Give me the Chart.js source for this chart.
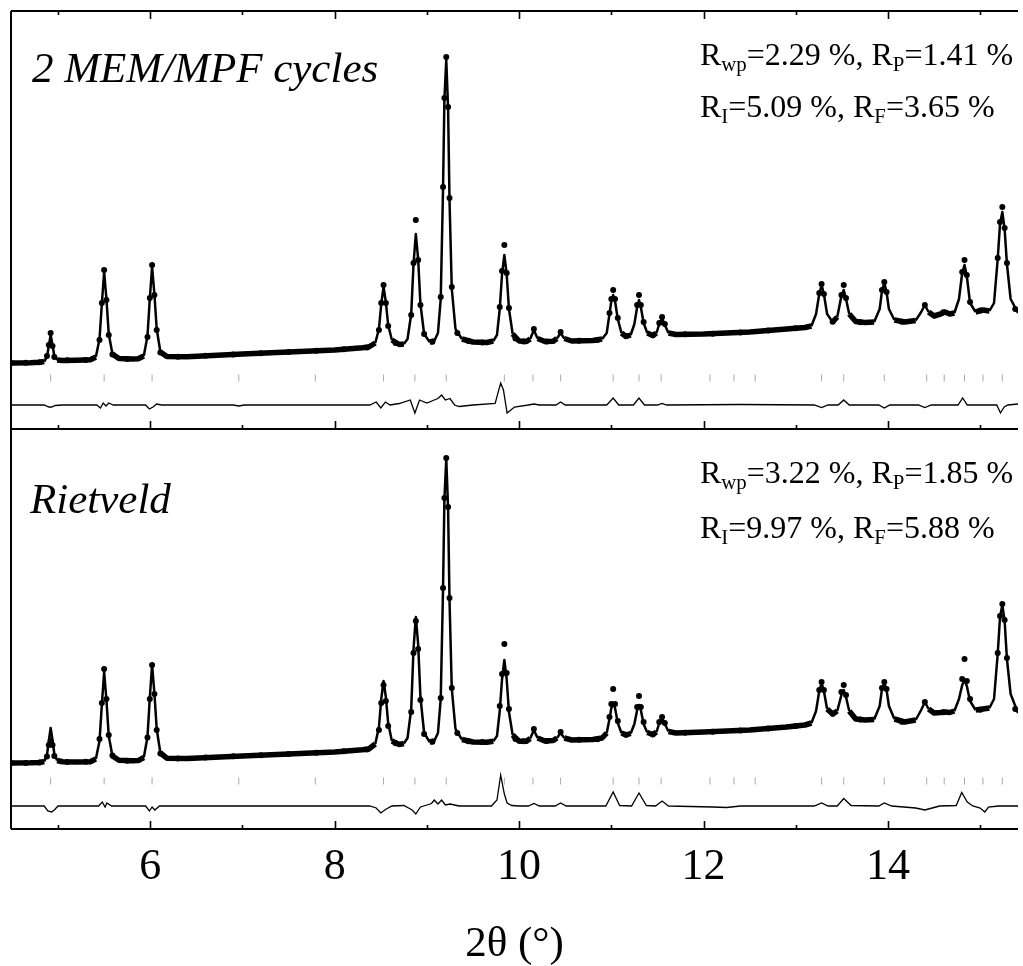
<!DOCTYPE html>
<html>
<head>
<meta charset="utf-8">
<script src="https://cdn.jsdelivr.net/npm/chart.js@4"></script>
<style>
  html, body { margin:0; padding:0; background:#fff; }
  #wrap { position:relative; width:1023px; height:966px; overflow:hidden; background:#fff; }
  canvas { position:absolute; left:0; }
  .lbl { position:absolute; font-family:'Liberation Serif','Times New Roman',serif; color:#000; line-height:1; white-space:nowrap; }
  .it { font-style:italic; font-size:43px; }
  .rf { font-size:32px; }
  .rf sub { font-size:0.65em; vertical-align:-0.3em; line-height:0; }
</style>
</head>
<body>
<div id="wrap">
  <canvas id="top" width="1023" height="440" style="top:0px"></canvas>
  <canvas id="bot" width="1023" height="547" style="top:419px"></canvas>
  <div class="lbl it" style="left:32px; top:46px">2 MEM/MPF cycles</div>
  <div class="lbl rf" style="left:700px; top:38px">R<sub>wp</sub>=2.29 %, R<sub>P</sub>=1.41 %</div>
  <div class="lbl rf" style="left:700px; top:90px">R<sub>I</sub>=5.09 %, R<sub>F</sub>=3.65 %</div>
  <div class="lbl it" style="left:30px; top:477px">Rietveld</div>
  <div class="lbl rf" style="left:700px; top:456px">R<sub>wp</sub>=3.22 %, R<sub>P</sub>=1.85 %</div>
  <div class="lbl rf" style="left:700px; top:511px">R<sub>I</sub>=9.97 %, R<sub>F</sub>=5.88 %</div>
</div>
<script>
// ---------------- DATA ----------------
const xTickValues = [6, 8, 10, 12, 14];
const xMinorTickValues = [5, 7, 9, 11, 13, 15];
const xAxisTitle = '2θ (°)';

// Bragg reflection positions (2θ)
const braggPeaks = [4.92,5.50,6.02,6.96,7.79,8.53,8.87,9.21,9.84,10.15,10.45,11.02,11.30,11.54,12.07,12.33,12.56,13.28,13.52,13.96,14.42,14.61,14.83,15.03,15.24];

// Top panel (2 MEM/MPF cycles): calculated profile [2θ, intensity]
const calcTop = [
[4.49,660],[4.70,663],[4.80,667],[4.85,675],[4.88,720],[4.90,830],[4.92,940],[4.94,840],[4.96,730],[4.99,690],[5.05,685],
[5.20,688],[5.35,692],[5.41,720],[5.45,900],[5.475,1250],[5.50,1570],[5.525,1300],[5.55,950],[5.59,750],[5.66,705],[5.80,700],
[5.87,702],[5.93,730],[5.97,930],[5.995,1300],[6.02,1620],[6.045,1350],[6.07,1000],[6.11,770],[6.18,725],[6.40,722],
[7.00,750],[7.50,770],[8.00,790],[8.20,805],[8.30,812],
[8.37,820],[8.44,860],[8.48,1000],[8.505,1250],[8.53,1420],[8.555,1270],[8.58,1040],[8.62,890],[8.70,845],
[8.75,850],[8.79,900],[8.83,1150],[8.855,1650],[8.88,1950],[8.905,1700],[8.93,1250],[8.97,950],[9.03,870],
[9.08,880],[9.12,960],[9.15,1300],[9.175,2400],[9.19,3300],[9.21,3690],[9.23,3200],[9.245,2300],[9.27,1400],[9.31,1000],[9.38,900],[9.50,870],
[9.65,865],[9.72,880],[9.76,940],[9.79,1200],[9.815,1550],[9.84,1740],[9.865,1550],[9.89,1200],[9.93,950],[10.00,880],
[10.08,875],[10.12,900],[10.16,990],[10.20,905],[10.28,875],[10.37,878],[10.41,905],[10.45,960],[10.49,905],[10.57,880],
[10.80,885],[10.90,900],[10.95,960],[10.98,1150],[11.00,1280],[11.02,1340],[11.04,1280],[11.07,1100],[11.11,960],[11.16,925],[11.21,940],[11.25,1050],[11.28,1220],[11.30,1290],[11.32,1220],[11.35,1060],[11.39,960],[11.45,935],[11.49,960],[11.52,1050],[11.55,1110],[11.58,1040],[11.62,960],[11.70,945],
[12.00,950],[12.50,970],[12.90,1000],[13.10,1015],
[13.17,1030],[13.22,1150],[13.255,1350],[13.28,1440],[13.305,1350],[13.34,1150],[13.40,1070],[13.45,1120],[13.495,1330],[13.52,1390],[13.545,1300],[13.58,1150],[13.65,1075],[13.75,1065],[13.85,1070],[13.91,1200],[13.935,1380],[13.96,1460],[13.985,1370],[14.01,1200],[14.07,1090],[14.18,1070],
[14.30,1085],[14.36,1170],[14.40,1240],[14.44,1170],[14.50,1130],[14.57,1150],[14.62,1170],[14.67,1150],[14.72,1160],[14.77,1300],[14.805,1560],[14.83,1640],[14.855,1530],[14.89,1260],[14.95,1170],[15.03,1190],[15.10,1180],[15.15,1260],[15.19,1700],[15.215,2050],[15.24,2170],[15.265,2000],[15.29,1650],[15.33,1300],[15.41,1160]
];

// Top panel: observed points [2θ, intensity]
const obsTop = [
[4.49,660],[4.65,662],[4.80,668],[4.88,730],[4.90,840],[4.92,960],[4.94,830],[4.96,720],[5.10,688],[5.30,691],
[5.45,890],[5.475,1260],[5.50,1590],[5.525,1290],[5.55,940],[5.59,745],[5.75,701],
[5.97,920],[5.995,1310],[6.02,1640],[6.045,1340],[6.07,990],[6.11,765],[6.30,722],[6.60,733],[6.90,746],[7.20,758],[7.50,771],[7.80,782],[8.10,798],[8.35,816],
[8.48,990],[8.505,1260],[8.53,1440],[8.555,1260],[8.58,1030],[8.66,860],
[8.83,1140],[8.855,1660],[8.88,2090],[8.905,1690],[8.93,1240],[8.97,950],[9.06,872],
[9.15,1320],[9.175,2420],[9.19,3310],[9.21,3720],[9.23,3220],[9.245,2310],[9.27,1420],[9.33,960],[9.45,880],[9.60,866],
[9.79,1220],[9.815,1580],[9.84,1840],[9.865,1560],[9.89,1210],[9.96,905],[10.05,876],
[10.16,1000],[10.30,876],[10.45,970],[10.65,882],[10.85,890],
[10.98,1160],[11.00,1300],[11.02,1390],[11.04,1300],[11.07,1110],[11.16,930],
[11.28,1240],[11.30,1340],[11.32,1240],[11.35,1070],[11.45,938],
[11.52,1060],[11.55,1120],[11.58,1050],[11.80,947],[12.10,953],[12.40,965],[12.70,985],[13.00,1008],
[13.255,1360],[13.28,1450],[13.305,1350],[13.40,1072],
[13.495,1340],[13.52,1440],[13.545,1310],[13.70,1068],
[13.935,1390],[13.96,1470],[13.985,1370],[14.15,1072],
[14.40,1240],[14.60,1168],
[14.805,1570],[14.83,1690],[14.855,1540],[14.89,1270],[15.00,1185],
[15.19,1710],[15.215,2070],[15.24,2220],[15.265,2010],[15.29,1660],[15.38,1200]
];

// Top panel: difference (obs - calc) [2θ, value]
const diffTop = [
[4.49,0],[4.85,0],[4.90,-20],[4.93,-20],[4.97,-5],[5.05,0],[5.42,0],[5.46,-30],[5.49,20],[5.52,-10],[5.55,20],[5.60,0],
[5.95,0],[5.99,-40],[6.03,-20],[6.07,10],[6.12,0],[6.90,0],[6.96,-10],[7.02,0],
[8.38,0],[8.45,30],[8.50,-30],[8.55,30],[8.60,0],[8.70,15],[8.82,50],[8.87,-80],[8.92,50],[9.00,20],[9.08,50],[9.12,65],[9.16,100],[9.20,50],[9.25,65],[9.30,0],[9.35,-15],[9.50,0],
[9.74,15],[9.80,220],[9.83,150],[9.87,-80],[9.95,-20],[10.10,0],[10.16,10],[10.22,0],[10.40,0],[10.45,30],[10.50,0],
[10.95,0],[11.02,70],[11.08,0],[11.24,0],[11.30,70],[11.36,0],[11.50,0],[11.55,15],[11.60,0],[12.40,5],
[13.20,0],[13.28,-25],[13.35,0],[13.46,0],[13.52,50],[13.58,0],[13.90,0],[13.96,-30],[14.02,0],[14.33,0],[14.40,-25],[14.47,0],
[14.76,0],[14.81,70],[14.86,0],[15.00,0],[15.18,0],[15.22,-80],[15.26,-20],[15.30,0],[15.41,10]
];

// Bottom panel (Rietveld): calculated profile
const calcBottom = [
[4.49,660],[4.70,662],[4.80,665],[4.85,675],[4.88,740],[4.90,880],[4.92,1010],[4.94,890],[4.96,750],[4.99,685],[5.05,672],
[5.20,670],[5.35,673],[5.41,700],[5.45,880],[5.475,1240],[5.50,1570],[5.525,1290],[5.55,930],[5.59,730],[5.66,688],[5.80,682],
[5.87,684],[5.93,715],[5.97,920],[5.995,1310],[6.02,1640],[6.045,1360],[6.07,1000],[6.11,760],[6.18,708],[6.40,705],
[7.00,730],[7.50,750],[8.00,770],[8.20,785],[8.30,792],
[8.37,800],[8.44,850],[8.48,1020],[8.505,1300],[8.53,1480],[8.555,1320],[8.58,1060],[8.62,880],[8.70,845],
[8.75,855],[8.79,910],[8.83,1200],[8.855,1800],[8.88,2120],[8.905,1850],[8.93,1320],[8.97,960],[9.03,870],
[9.08,880],[9.12,960],[9.15,1300],[9.175,2400],[9.19,3300],[9.21,3700],[9.23,3200],[9.245,2300],[9.27,1400],[9.31,1000],[9.38,895],[9.50,870],
[9.65,868],[9.72,878],[9.76,930],[9.79,1180],[9.815,1500],[9.84,1690],[9.865,1500],[9.89,1170],[9.93,940],[10.00,878],
[10.08,878],[10.12,905],[10.16,990],[10.20,910],[10.28,880],[10.37,885],[10.41,910],[10.45,960],[10.49,910],[10.57,890],
[10.80,895],[10.90,910],[10.95,960],[10.98,1100],[11.00,1210],[11.02,1260],[11.04,1210],[11.07,1060],[11.11,960],[11.16,940],[11.21,955],[11.25,1050],[11.28,1190],[11.30,1240],[11.32,1190],[11.35,1050],[11.39,965],[11.45,945],[11.49,970],[11.52,1060],[11.55,1110],[11.58,1050],[11.62,975],[11.70,960],
[12.00,970],[12.50,990],[12.90,1020],[13.10,1040],
[13.17,1060],[13.22,1180],[13.255,1380],[13.28,1460],[13.305,1380],[13.34,1200],[13.40,1150],[13.45,1180],[13.495,1340],[13.52,1390],[13.545,1320],[13.58,1180],[13.65,1100],[13.75,1090],[13.85,1095],[13.91,1230],[13.935,1400],[13.96,1460],[13.985,1390],[14.01,1230],[14.07,1100],[14.18,1070],
[14.30,1090],[14.36,1190],[14.40,1270],[14.44,1200],[14.50,1160],[14.57,1165],[14.62,1170],[14.67,1165],[14.72,1180],[14.77,1300],[14.805,1440],[14.83,1490],[14.855,1430],[14.89,1280],[14.95,1190],[15.03,1200],[15.10,1210],[15.15,1300],[15.19,1750],[15.215,2120],[15.24,2240],[15.265,2080],[15.29,1700],[15.33,1350],[15.41,1160]
];

// Bottom panel: observed points
const obsBottom = [
[4.49,660],[4.65,661],[4.80,666],[4.88,725],[4.90,840],[4.92,880],[4.94,840],[4.96,730],[5.10,671],[5.30,672],
[5.45,900],[5.475,1260],[5.50,1600],[5.525,1300],[5.55,940],[5.59,735],[5.75,683],
[5.97,915],[5.995,1300],[6.02,1640],[6.045,1350],[6.07,990],[6.11,755],[6.30,705],[6.60,716],[6.90,727],[7.20,738],[7.50,751],[7.80,762],[8.10,777],[8.35,796],
[8.48,990],[8.505,1260],[8.53,1440],[8.555,1280],[8.58,1030],[8.66,858],
[8.83,1170],[8.855,1760],[8.88,2080],[8.905,1800],[8.93,1290],[8.97,950],[9.06,873],
[9.15,1310],[9.175,2410],[9.19,3310],[9.21,3710],[9.23,3220],[9.245,2310],[9.27,1410],[9.33,960],[9.45,878],[9.60,869],
[9.79,1230],[9.815,1550],[9.84,1850],[9.865,1560],[9.89,1200],[9.96,900],[10.05,878],
[10.16,1000],[10.30,881],[10.45,970],[10.65,892],[10.85,898],
[10.98,1120],[11.00,1250],[11.02,1400],[11.04,1250],[11.07,1080],[11.16,942],
[11.28,1220],[11.30,1330],[11.32,1220],[11.35,1070],[11.45,946],
[11.52,1070],[11.55,1120],[11.58,1060],[11.80,962],[12.10,972],[12.40,985],[12.70,1005],[13.00,1030],
[13.255,1390],[13.28,1470],[13.305,1390],[13.40,1152],
[13.495,1370],[13.52,1440],[13.545,1340],[13.70,1095],
[13.935,1410],[13.96,1470],[13.985,1400],[14.15,1072],
[14.40,1270],[14.60,1168],
[14.805,1500],[14.83,1700],[14.855,1480],[14.89,1300],[15.00,1192],
[15.19,1760],[15.215,2130],[15.24,2250],[15.265,2090],[15.29,1710],[15.38,1200]
];

// Bottom panel: difference
const diffBottom = [
[4.49,0],[4.85,0],[4.89,-50],[4.93,-60],[4.96,-40],[5.00,0],[5.44,0],[5.48,40],[5.51,-10],[5.53,30],[5.58,0],
[5.95,0],[5.99,-50],[6.02,-10],[6.05,-40],[6.10,0],
[8.38,0],[8.45,-20],[8.50,-70],[8.56,-30],[8.62,0],[8.75,5],[8.84,-40],[8.88,-80],[8.93,-10],[9.00,10],[9.05,25],[9.08,60],[9.12,20],[9.16,60],[9.20,10],[9.25,20],[9.35,0],
[9.70,0],[9.76,60],[9.80,310],[9.84,120],[9.87,30],[9.92,5],[10.00,0],[10.10,0],[10.16,25],[10.22,0],[10.39,0],[10.45,30],[10.51,0],
[10.94,0],[11.02,140],[11.09,5],[11.22,0],[11.30,130],[11.38,5],[11.48,0],[11.55,50],[11.62,0],[12.10,-10],[12.25,-15],[12.40,0],
[13.20,0],[13.28,30],[13.35,0],[13.45,0],[13.52,75],[13.60,5],[13.90,0],[13.96,30],[14.04,0],[14.30,-20],[14.40,-40],[14.48,-20],[14.56,0],
[14.74,5],[14.80,135],[14.86,40],[14.92,0],[15.00,-20],[15.05,-60],[15.09,-10],[15.20,0],[15.41,0]
];

// ---------------- LAYOUT CONSTANTS (not data) ----------------
const X_MIN = 4.49, X_MAX = 15.41;
const TOP_DIFF_OFFSET = 240, TOP_BRAGG_Y = 510, TOP_Y_MAX = 4180;
const BOT_DIFF_OFFSET = 230, BOT_BRAGG_Y = 480, BOT_Y_MAX = 4000;
const SERIF = "'Liberation Serif','Times New Roman',serif";

function calcDS(arr) {
  return {
    data: arr, showLine: true, borderColor: '#000', pointRadius: 0, borderWidth: 2.5,
    tension: 0, order: 2, borderJoinStyle: 'round',
    segment: {
      borderWidth: ctx => {
        const dx = Math.abs(ctx.p1.x - ctx.p0.x), dy = Math.abs(ctx.p1.y - ctx.p0.y);
        return dy > dx * 1.3 ? 2.5 : 5.5;
      }
    }
  };
}
function obsDS(arr) {
  return { data: arr, showLine: false, pointRadius: 3, pointBackgroundColor: '#000', pointBorderWidth: 0, order: 1 };
}
function braggDS(y) {
  return { data: braggPeaks.map(x => ({x, y})), showLine: false, pointStyle: 'line', rotation: 90,
           pointRadius: 3.5, borderColor: '#aaa', pointBorderColor: '#aaa', pointBorderWidth: 1, order: 3 };
}
function diffDS(arr, off) {
  return { data: arr.map(([x, v]) => ({x, y: v + off})), showLine: true, borderColor: '#000', borderWidth: 1.3,
           pointRadius: 0, tension: 0, order: 4 };
}

function framePlugin(cfg) {
  return {
    id: 'frame' + cfg.name,
    afterDraw(chart) {
      const {ctx, chartArea: a} = chart;
      const sx = chart.scales.x;
      ctx.save();
      ctx.strokeStyle = '#000';
      ctx.lineWidth = 2;
      ctx.beginPath();
      ctx.moveTo(a.left, a.top); ctx.lineTo(a.left, a.bottom);
      ctx.moveTo(a.left, a.top); ctx.lineTo(a.right, a.top);
      ctx.moveTo(a.left, a.bottom); ctx.lineTo(a.right, a.bottom);
      ctx.stroke();
      ctx.lineWidth = 1.6;
      ctx.beginPath();
      const drawTicks = (vals, len) => {
        vals.forEach(v => {
          const px = Math.round(sx.getPixelForValue(v)) + 0.5;
          if (cfg.topTicks) { ctx.moveTo(px, a.top); ctx.lineTo(px, a.top + len); }
          if (cfg.bottomTicks) { ctx.moveTo(px, a.bottom); ctx.lineTo(px, a.bottom - len); }
        });
      };
      drawTicks(xTickValues, 8);
      drawTicks(xMinorTickValues, 4);
      ctx.stroke();
      ctx.restore();
    }
  };
}

const common = {
  responsive: false, animation: false, devicePixelRatio: 1,
  plugins: { legend: { display: false }, tooltip: { enabled: false } },
  elements: { line: { tension: 0 } }
};

new Chart(document.getElementById('top'), {
  type: 'scatter',
  data: { datasets: [calcDS(calcTop), obsDS(obsTop), braggDS(TOP_BRAGG_Y), diffDS(diffTop, TOP_DIFF_OFFSET)] },
  options: Object.assign({}, common, {
    layout: { padding: { left: 11, right: 0, top: 11, bottom: 11 } },
    scales: {
      x: { type: 'linear', min: X_MIN, max: X_MAX, display: false },
      y: { type: 'linear', min: 0, max: TOP_Y_MAX, display: false }
    }
  }),
  plugins: [framePlugin({ name: 'top', topTicks: true, bottomTicks: true })]
});

new Chart(document.getElementById('bot'), {
  type: 'scatter',
  data: { datasets: [calcDS(calcBottom), obsDS(obsBottom), braggDS(BOT_BRAGG_Y), diffDS(diffBottom, BOT_DIFF_OFFSET)] },
  options: Object.assign({}, common, {
    layout: { padding: { left: 11, right: 0, top: 10, bottom: 0 } },
    scales: {
      x: {
        type: 'linear', min: X_MIN, max: X_MAX, position: 'bottom',
        grid: { display: false, drawTicks: false },
        border: { display: false },
        afterBuildTicks: s => { s.ticks = xTickValues.map(v => ({ value: v })); },
        afterFit: s => { s.height = 137; },
        ticks: { color: '#000', padding: 16, maxRotation: 0, autoSkip: false,
                 font: { family: SERIF, size: 44, lineHeight: 1 } },
        title: { display: true, text: xAxisTitle, color: '#000',
                 font: { family: SERIF, size: 43, lineHeight: 1 }, padding: { top: 0, bottom: 0 } }
      },
      y: { type: 'linear', min: 0, max: BOT_Y_MAX, display: false }
    }
  }),
  plugins: [framePlugin({ name: 'bot', topTicks: false, bottomTicks: true })]
});
</script>
</body>
</html>
